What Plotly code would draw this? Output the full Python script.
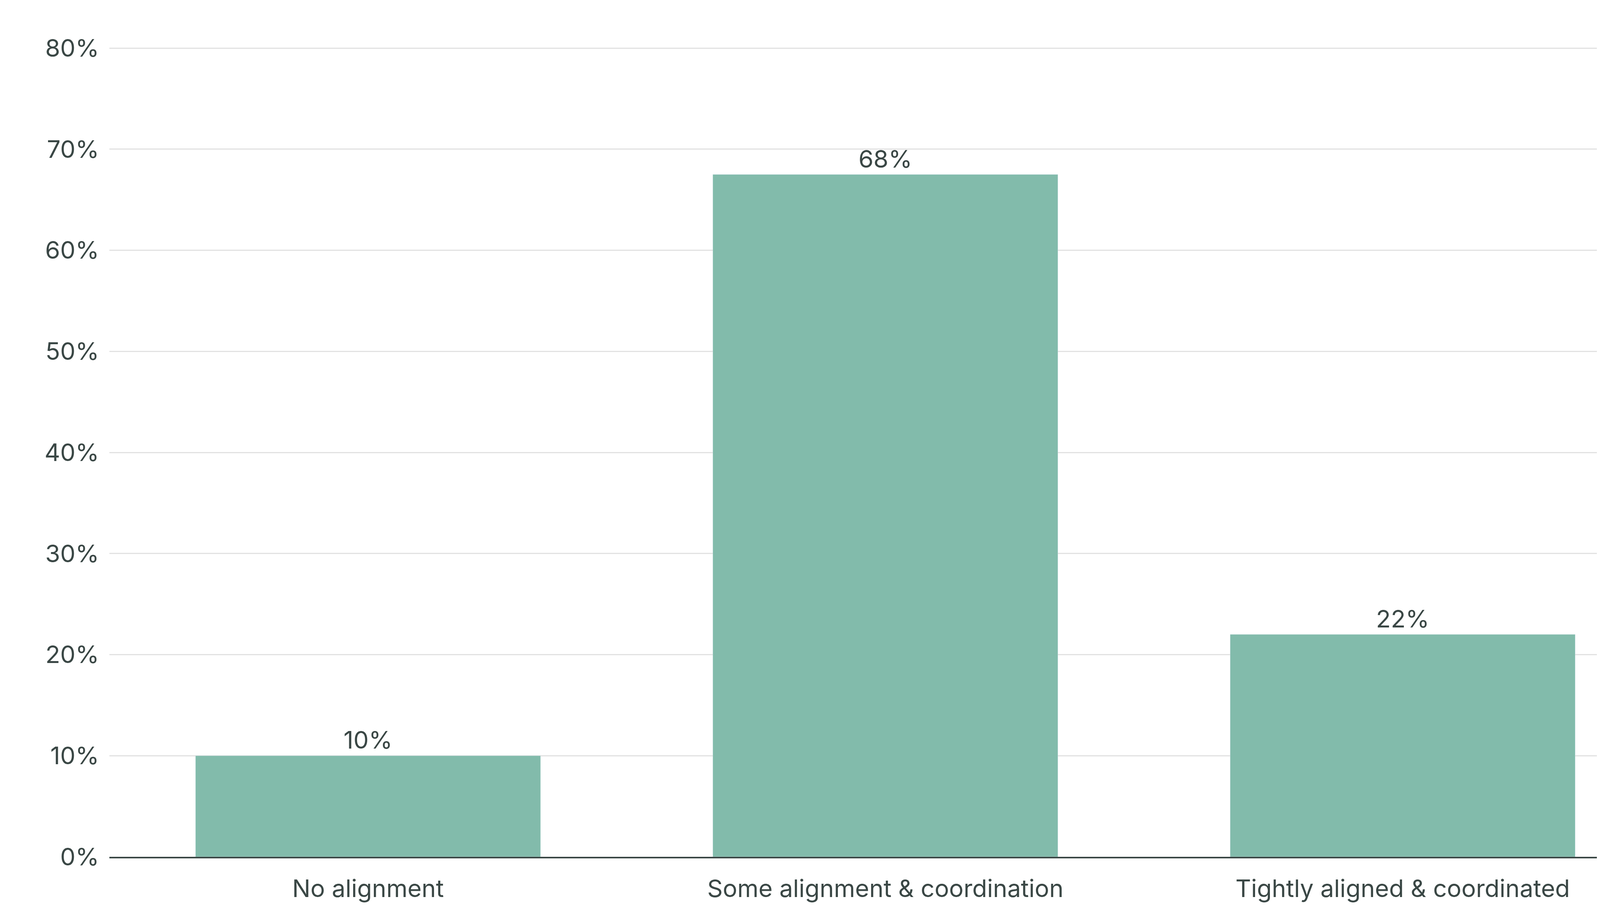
import plotly.graph_objects as go

categories = ["No alignment", "Some alignment & coordination", "Tightly aligned & coordinated"]
values = [10, 67.5, 22]
labels = ["10%", "68%", "22%"]
tick_vals = [0, 10, 20, 30, 40, 50, 60, 70, 80]
tick_text = ["0%", "10%", "20%", "30%", "40%", "50%", "60%", "70%", "80%"]

fig = go.Figure(go.Bar(
    x=categories, y=values, text=labels, textposition="outside",
    marker_color="#82bbab", width=0.667,
    textfont=dict(size=62, color="#3a4745"), cliponaxis=False,
))
fig.update_layout(
    width=4345, height=2365, plot_bgcolor="white", paper_bgcolor="white",
    margin=dict(l=272, r=100, t=110, b=180),
    font=dict(family="Inter, Lato, sans-serif", size=62, color="#3a4745"),
    showlegend=False,
)
fig.update_yaxes(range=[0, 80.2], tickvals=tick_vals, ticktext=tick_text,
                 gridcolor="#e2e2e2", gridwidth=3, zeroline=False, ticks="",
                 ticklabelstandoff=25)
fig.update_xaxes(showline=True, linecolor="#3a4745", linewidth=4, ticks="",
                 ticklabelstandoff=25)
fig.write_html("out.html")
